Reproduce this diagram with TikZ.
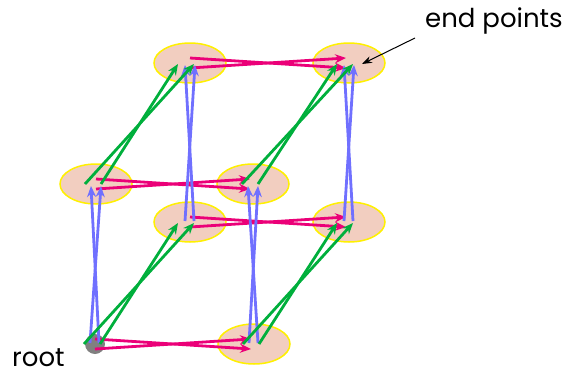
\documentclass[tikz,border=0pt]{standalone}
\usepackage{fontspec}
\setmainfont{Poppins}
\usetikzlibrary{calc,shapes.geometric,arrows.meta}

\definecolor{cellfill}{RGB}{242,206,192}
\definecolor{cellline}{RGB}{255,240,0}
\definecolor{xcol}{RGB}{235,0,120}
\definecolor{ycol}{RGB}{112,112,255}
\definecolor{zcol}{RGB}{0,175,60}

\begin{document}
\begin{tikzpicture}[x=1pt,y=-1pt,
  cell/.style={ellipse,fill=cellfill,draw=cellline,line width=1.5pt,minimum width=72pt,minimum height=40pt,inner sep=0},
  rootcell/.style={circle,fill=gray,minimum size=20pt,inner sep=0},
  edge/.style={line width=2.8pt,-{Stealth[length=11pt,width=9pt]}},
  lbl/.style={font=\fontsize{26}{30}\selectfont,inner sep=0,anchor=base west}]
\useasboundingbox (0,0) rectangle (578,375);
% cube of nodes
\node[cell] (X) at (254,344) {}; \node[cell] (Y) at (96,184) {}; \node[cell] (XY) at (253,184) {};
\node[cell] (Z) at (190,222) {}; \node[cell] (XZ) at (349,222) {};
\node[cell] (YZ) at (190,63) {}; \node[cell] (XYZ) at (349,63) {};
\node[rootcell] (O) at (95,344) {};
% x edges
\foreach \a/\b in {O/X,Y/XY,Z/XZ,YZ/XYZ}{
  \draw[edge,xcol] ($(\a.center)+(0,-5)$) -- ($(\b.center)+(-3,5)$);
  \draw[edge,xcol] ($(\a.center)+(0,5)$) -- ($(\b.center)+(-3,-5)$);
}
% y edges
\foreach \a/\b in {O/Y,X/XY,Z/YZ,XZ/XYZ}{
  \draw[edge,ycol] ($(\a.center)+(-5,-1)$) -- ($(\b.center)+(5,2)$);
  \draw[edge,ycol] ($(\a.center)+(4,-1)$) -- ($(\b.center)+(-5,2)$);
}
% z edges
\foreach \a/\b in {O/Z,X/XZ,Y/YZ,XY/XYZ}{
  \draw[edge,zcol] ($(\a.center)+(-11,0)$) -- ($(\b.center)+(4,1)$);
  \draw[edge,zcol] ($(\a.center)+(5,0)$) -- ($(\b.center)+(-12,1)$);
}
\node[lbl] (ends) at (425,27) {end points};
\node[lbl] (rootlbl) at (12,366) {root};
\coordinate (endtail) at (415,38);
\draw[line width=1pt,-{Stealth[length=10pt,width=7pt]}] (endtail) -- ($(XYZ.center)+(13,1)$);
\end{tikzpicture}
\end{document}
